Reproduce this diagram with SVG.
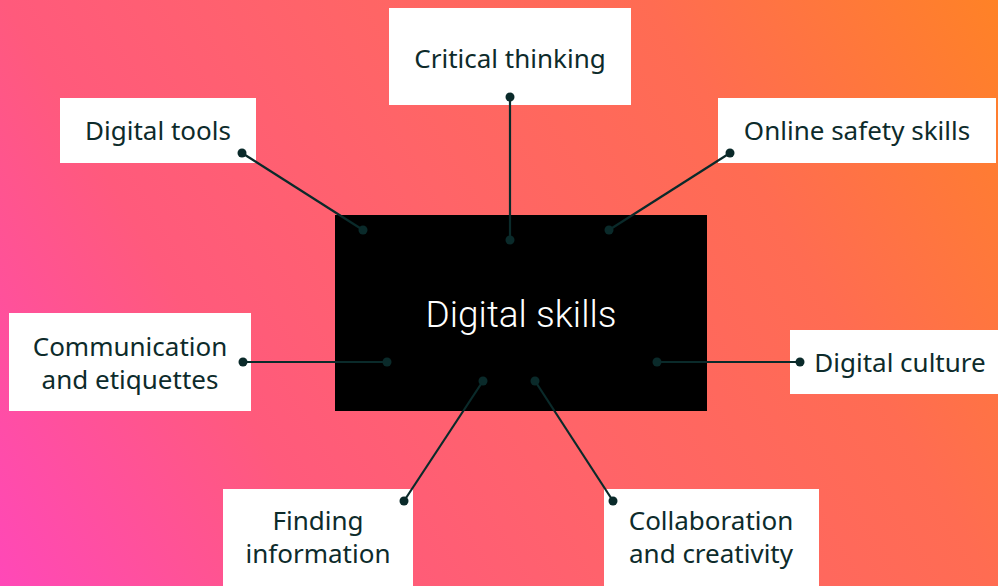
<svg xmlns="http://www.w3.org/2000/svg" width="998" height="586" viewBox="0 0 998 586">
<defs>
<linearGradient id="bg" gradientUnits="userSpaceOnUse" x1="0" y1="586" x2="998" y2="0">
<stop offset="0" stop-color="#ff48b8"/>
<stop offset="0.26" stop-color="#ff5a7c"/>
<stop offset="0.5" stop-color="#ff6468"/>
<stop offset="0.74" stop-color="#ff6c52"/>
<stop offset="1" stop-color="#ff8226"/>
</linearGradient>
<style>
.box{fill:#ffffff}
.lbl{font-family:"Noto Sans","Liberation Sans",sans-serif;font-size:26px;fill:#0d2b2b;text-anchor:middle}
.ctr{font-family:Roboto,"Liberation Sans",sans-serif;font-weight:300;font-size:37px;fill:#ffffff;text-anchor:middle}
.ln{stroke:#0a2a2a;stroke-width:2.2;fill:none}
.dot{fill:#0a2a2a}
</style>
</defs>
<rect width="998" height="586" fill="url(#bg)"/>
<g id="center">
<rect x="335" y="215" width="372" height="196" fill="#000000"/>
<text class="ctr" x="521" y="327">Digital skills</text>
</g>
<g id="critical-thinking">
<rect class="box" x="389" y="8" width="242" height="97"/>
<text class="lbl" x="510" y="68">Critical thinking</text>
</g>
<g id="digital-tools">
<rect class="box" x="60" y="98" width="196" height="65"/>
<text class="lbl" x="158" y="140">Digital tools</text>
</g>
<g id="online-safety">
<rect class="box" x="718" y="98" width="278" height="65"/>
<text class="lbl" x="857" y="140">Online safety skills</text>
</g>
<g id="communication">
<rect class="box" x="9" y="313" width="242" height="98"/>
<text class="lbl" x="130" y="356">Communication</text>
<text class="lbl" x="130" y="389">and etiquettes</text>
</g>
<g id="digital-culture">
<rect class="box" x="790" y="330" width="208" height="64"/>
<text class="lbl" x="900" y="372">Digital culture</text>
</g>
<g id="finding-information">
<rect class="box" x="223" y="489" width="190" height="97"/>
<text class="lbl" x="318" y="530">Finding</text>
<text class="lbl" x="318" y="563">information</text>
</g>
<g id="collaboration">
<rect class="box" x="604" y="489" width="215" height="97"/>
<text class="lbl" x="711" y="530">Collaboration</text>
<text class="lbl" x="711" y="563">and creativity</text>
</g>
<g id="connectors">
<line class="ln" x1="510" y1="97" x2="510" y2="240"/>
<line class="ln" x1="242" y1="153" x2="363" y2="230"/>
<line class="ln" x1="730" y1="153" x2="609" y2="230"/>
<line class="ln" x1="243" y1="362" x2="387" y2="362"/>
<line class="ln" x1="800" y1="362" x2="657" y2="362"/>
<line class="ln" x1="404" y1="501" x2="483" y2="381"/>
<line class="ln" x1="613" y1="501" x2="535" y2="381"/>
<circle class="dot" cx="510" cy="97" r="4.5"/>
<circle class="dot" cx="510" cy="240" r="4.5"/>
<circle class="dot" cx="242" cy="153" r="4.5"/>
<circle class="dot" cx="363" cy="230" r="4.5"/>
<circle class="dot" cx="730" cy="153" r="4.5"/>
<circle class="dot" cx="609" cy="230" r="4.5"/>
<circle class="dot" cx="243" cy="362" r="4.5"/>
<circle class="dot" cx="387" cy="362" r="4.5"/>
<circle class="dot" cx="800" cy="362" r="4.5"/>
<circle class="dot" cx="657" cy="362" r="4.5"/>
<circle class="dot" cx="404" cy="501" r="4.5"/>
<circle class="dot" cx="483" cy="381" r="4.5"/>
<circle class="dot" cx="613" cy="501" r="4.5"/>
<circle class="dot" cx="535" cy="381" r="4.5"/>
</g>
</svg>
